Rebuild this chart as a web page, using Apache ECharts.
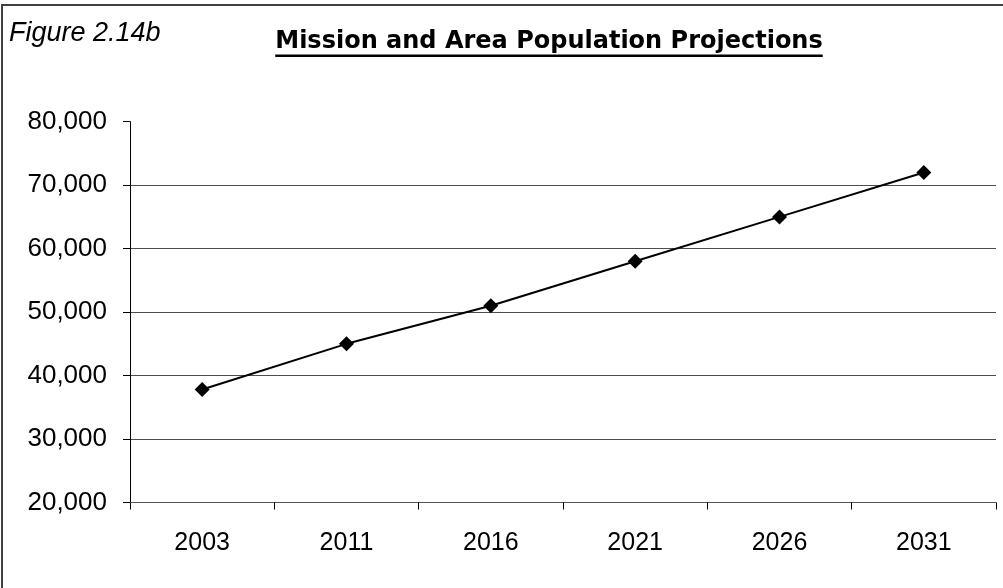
<!DOCTYPE html>
<html>
<head>
<meta charset="utf-8">
<script src="https://cdn.jsdelivr.net/npm/echarts@6/dist/echarts.min.js"></script>
<style>
html,body{margin:0;padding:0;background:#fff;}
#c{width:1003px;height:588px;}
</style>
</head>
<body>
<div id="c"></div>
<script>
var categories = ['2003', '2011', '2016', '2021', '2026', '2031'];
var population = [37800, 45000, 51000, 58000, 65000, 72000];
var yTicks = { min: 20000, max: 80000, interval: 10000 };
var figureLabel = 'Figure 2.14b';
var chartTitle = 'Mission and Area Population Projections';

var titleFont = 'bold 24px "DejaVu Sans"';
var cv = document.createElement('canvas').getContext('2d');
cv.font = titleFont;
var tw = cv.measureText(chartTitle).width;
var tcx = 549;

var chart = echarts.init(document.getElementById('c'), null, { renderer: 'canvas' });
chart.setOption({
  backgroundColor: '#ffffff',
  animation: false,
  title: [
    {
      text: figureLabel, left: 9, top: 20, padding: 0,
      textStyle: { fontFamily: '"Liberation Sans", Arial, sans-serif', fontStyle: 'italic', fontWeight: 'normal', fontSize: 27, color: '#000' }
    },
    {
      text: chartTitle, left: tcx - tw / 2, top: 30, padding: 0,
      textStyle: { fontFamily: '"DejaVu Sans", sans-serif', fontWeight: 'bold', fontSize: 24, color: '#000' }
    }
  ],
  graphic: [
    {
      type: 'rect', silent: true,
      shape: { x: 2, y: 5, width: 1200, height: 800 },
      style: { fill: 'none', stroke: '#404040', lineWidth: 2 }
    },
    {
      type: 'line', silent: true,
      shape: { x1: tcx - tw / 2, y1: 55.8, x2: tcx + tw / 2, y2: 55.8 },
      style: { stroke: '#000', lineWidth: 2.5 }
    }
  ],
  grid: { left: 130, right: 7, top: 121.7, bottom: 85.5, containLabel: false },
  xAxis: {
    type: 'category',
    data: categories,
    boundaryGap: true,
    axisLine: { show: true, lineStyle: { color: '#555', width: 1 } },
    axisTick: { show: true, length: 7, inside: false, lineStyle: { color: '#000', width: 1 }, alignWithLabel: false },
    axisLabel: { color: '#000', fontSize: 25, fontFamily: '"Liberation Sans", Arial, sans-serif', margin: 28 },
    splitLine: { show: false }
  },
  yAxis: {
    type: 'value',
    min: yTicks.min, max: yTicks.max, interval: yTicks.interval,
    axisLine: { show: true, lineStyle: { color: '#000', width: 1 } },
    axisTick: { show: true, length: 7, inside: false, lineStyle: { color: '#000', width: 1 } },
    axisLabel: {
      color: '#000', fontSize: 26, fontFamily: '"Liberation Sans", Arial, sans-serif', margin: 23,
      formatter: function (v) { return v.toLocaleString('en-US'); }
    },
    splitLine: { show: true, showMinLine: false, showMaxLine: false, lineStyle: { color: '#4d4d4d', width: 1 } }
  },
  series: [
    {
      type: 'line',
      data: population,
      symbol: 'diamond',
      symbolSize: 15,
      showAllSymbol: true,
      lineStyle: { color: '#000', width: 2 },
      itemStyle: { color: '#000', borderWidth: 0 },
      emphasis: { disabled: true }
    }
  ]
});
</script>
</body>
</html>
